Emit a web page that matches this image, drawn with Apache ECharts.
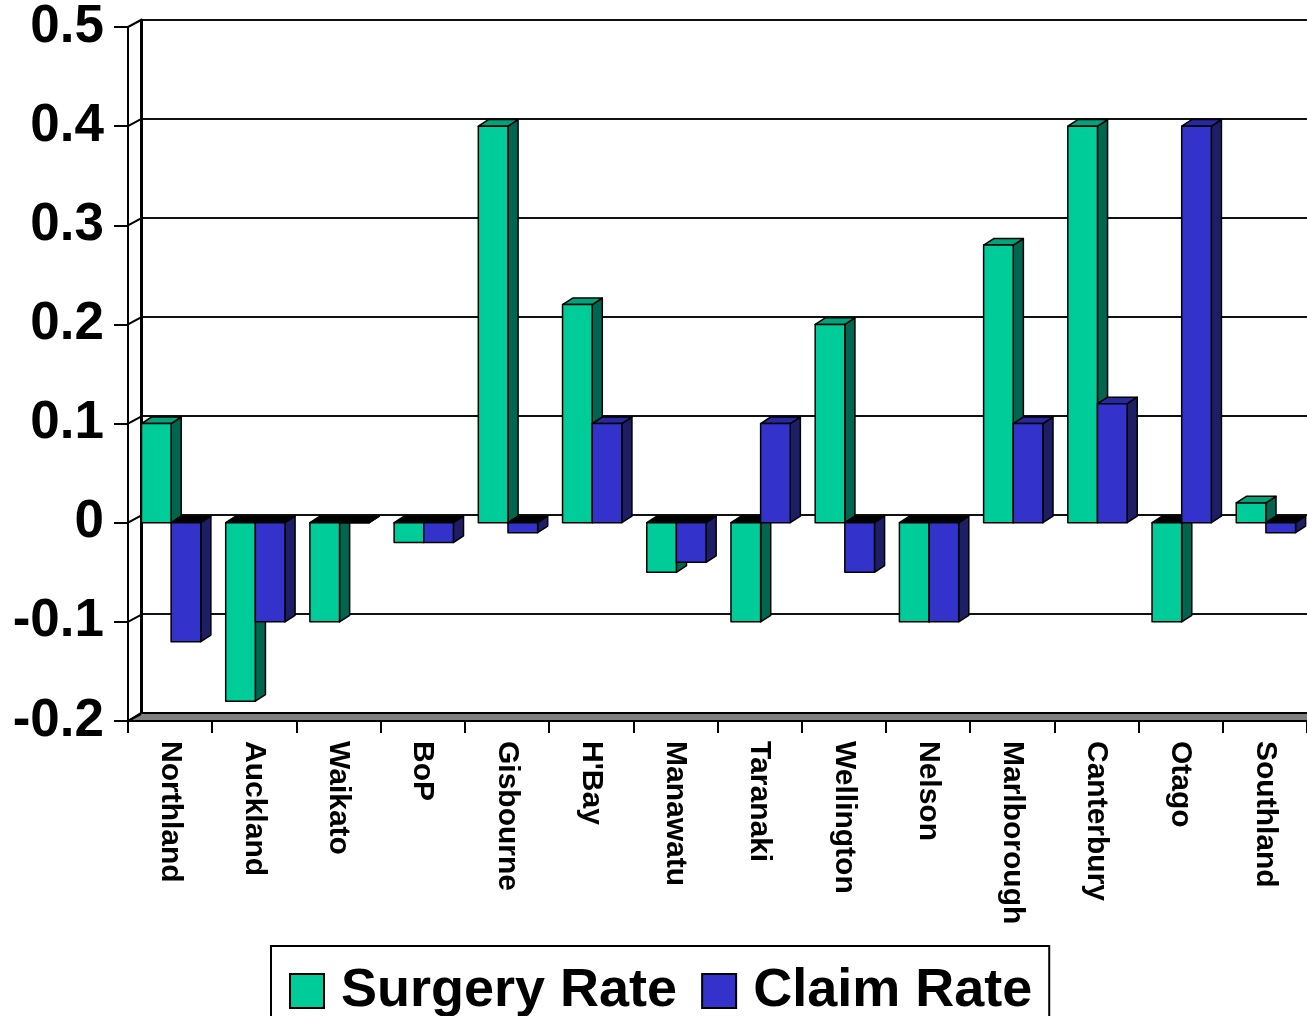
<!DOCTYPE html>
<html>
<head>
<meta charset="utf-8">
<script src="https://cdn.jsdelivr.net/npm/echarts@6/dist/echarts.min.js"></script>
<style>
html,body{margin:0;padding:0;background:#fff;}
#c{width:1307px;height:1016px;}
</style>
</head>
<body>
<div id="c"></div>
<script>
var categories = ['Northland','Auckland','Waikato','BoP','Gisbourne',"H'Bay",'Manawatu','Taranaki','Wellington','Nelson','Marlborough','Canterbury','Otago','Southland'];
var surgeryRate = [0.1,-0.18,-0.1,-0.02,0.4,0.22,-0.05,-0.1,0.2,-0.1,0.28,0.4,-0.1,0.02];
var claimRate = [-0.12,-0.1,0,-0.02,-0.01,0.1,-0.04,0.1,-0.05,-0.1,0.1,0.12,0.4,-0.01];
var yTicks = [-0.2,-0.1,0,0.1,0.2,0.3,0.4,0.5];

var FONT = '"Liberation Sans", Arial, sans-serif';
var DX = 13, DY = 7;

function barRenderer(slot, front, top, side) {
  return function (params, api) {
    var i = api.value(0), v = api.value(1);
    var c = api.coord([i, v]);
    var z = api.coord([i, 0]);
    var band = api.size([1, 0])[0];
    var bw = band * 0.352;
    var x0 = c[0] - band * 0.34 + slot * bw;
    var x1 = x0 + bw;
    var yTop = Math.min(c[1], z[1]);
    var yBot = Math.max(c[1], z[1]);
    var dx = band * 0.12, dy = band * 0.078;
    var st = {stroke: '#000', lineWidth: 1.5, lineJoin: 'round'};
    return {
      type: 'group',
      children: [
        {type: 'polygon', shape: {points: [[x1, yTop], [x1 + dx, yTop - dy], [x1 + dx, yBot - dy], [x1, yBot]]},
         style: Object.assign({fill: side}, st)},
        {type: 'polygon', shape: {points: [[x0, yTop], [x0 + dx, yTop - dy], [x1 + dx, yTop - dy], [x1, yTop]]},
         style: Object.assign({fill: v > 0 ? top : '#000'}, st)},
        {type: 'rect', shape: {x: x0, y: yTop, width: bw, height: yBot - yTop},
         style: Object.assign({fill: front}, st)}
      ]
    };
  };
}

var chart = echarts.init(document.getElementById('c'), null, {renderer: 'canvas'});
chart.setOption({
  animation: false,
  backgroundColor: '#fff',
  grid: [
    {left: 128, top: 27, width: 1181, height: 694},
    {left: 141, top: 20, width: 1181, height: 693}
  ],
  xAxis: [
    {
      type: 'category', gridIndex: 0, data: categories, boundaryGap: true,
      axisLine: {show: true, onZero: false, lineStyle: {color: '#000', width: 2}},
      axisTick: {show: true, inside: false, length: 12, interval: 0, lineStyle: {color: '#000', width: 2}},
      axisLabel: {show: true, interval: 0, rotate: -90, margin: 20, color: '#000',
        fontFamily: FONT, fontWeight: 'bold', fontSize: 30},
      splitLine: {show: false}
    },
    {
      type: 'category', gridIndex: 1, data: categories, boundaryGap: true, show: false,
      axisLine: {onZero: false}
    }
  ],
  yAxis: [
    {
      type: 'value', gridIndex: 0, min: -0.2, max: 0.5, interval: 0.1,
      axisLine: {show: true, lineStyle: {color: '#000', width: 2}},
      axisTick: {show: true, inside: false, length: 14, lineStyle: {color: '#000', width: 2}},
      axisLabel: {show: true, margin: 24, color: '#000', fontFamily: FONT, fontWeight: 'bold', fontSize: 53,
        formatter: function (v) { return String(Math.round(v * 10) / 10); }},
      splitLine: {show: false}
    },
    {
      type: 'value', gridIndex: 1, min: -0.2, max: 0.5, interval: 0.1,
      axisLine: {show: true, lineStyle: {color: '#000', width: 3}},
      axisTick: {show: false},
      axisLabel: {show: false},
      splitLine: {show: true, lineStyle: {color: '#111', width: 2}}
    }
  ],
  legend: {
    left: 271, top: 946,
    orient: 'horizontal',
    padding: [18, 17, 20, 18],
    itemWidth: 34, itemHeight: 34, itemGap: 24,
    backgroundColor: '#fff', borderColor: '#000', borderWidth: 2,
    textStyle: {color: '#000', fontFamily: FONT, fontWeight: 'bold', fontSize: 54, padding: [0, 0, 0, 12]},
    data: [
      {name: 'Surgery Rate', icon: 'rect', itemStyle: {color: '#00CC99', borderColor: '#000', borderWidth: 2}},
      {name: 'Claim Rate', icon: 'rect', itemStyle: {color: '#3333CC', borderColor: '#000', borderWidth: 2}}
    ]
  },
  series: [
    {
      name: 'floor', type: 'custom', xAxisIndex: 0, yAxisIndex: 0, clip: false, silent: true, z: 3,
      data: [[0, -0.2]],
      renderItem: function (params, api) {
        var cs = params.coordSys;
        var y = api.coord([0, api.value(1)])[1];
        var xL = cs.x, xR = cs.x + cs.width;
        return {type: 'polygon', shape: {points: [[xL, y], [xL + DX, y - DY - 1], [xR + DX, y - DY - 1], [xR, y]]},
          style: {fill: '#808080', stroke: '#000', lineWidth: 2}};
      }
    },
    {
      name: 'connectors', type: 'custom', xAxisIndex: 0, yAxisIndex: 0, clip: false, silent: true, z: 3,
      data: yTicks.map(function (v) { return [0, v]; }),
      renderItem: function (params, api) {
        var cs = params.coordSys;
        var y = api.coord([0, api.value(1)])[1];
        return {type: 'line', shape: {x1: cs.x, y1: y, x2: cs.x + DX, y2: y - DY},
          style: {stroke: '#000', lineWidth: 2}};
      }
    },
    {
      name: 'Surgery Rate', type: 'custom', xAxisIndex: 0, yAxisIndex: 0, clip: false, z: 4,
      itemStyle: {color: '#00CC99', borderColor: '#000', borderWidth: 2},
      encode: {x: 0, y: 1},
      data: surgeryRate.map(function (v, i) { return [i, v]; }),
      renderItem: barRenderer(0, '#00CC99', '#00A37A', '#006650')
    },
    {
      name: 'Claim Rate', type: 'custom', xAxisIndex: 0, yAxisIndex: 0, clip: false, z: 5,
      itemStyle: {color: '#3333CC', borderColor: '#000', borderWidth: 2},
      encode: {x: 0, y: 1},
      data: claimRate.map(function (v, i) { return [i, v]; }),
      renderItem: barRenderer(1, '#3333CC', '#2828A0', '#1E1E66')
    }
  ]
});
</script>
</body>
</html>
